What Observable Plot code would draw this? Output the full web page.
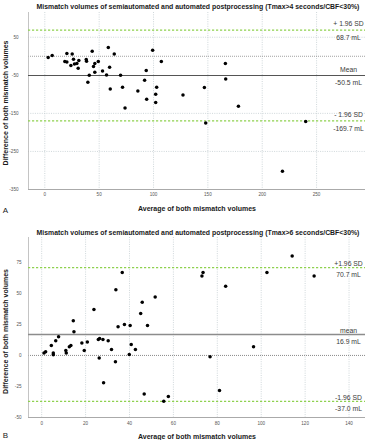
<!DOCTYPE html>
<html>
<head>
<meta charset="utf-8">
<script src="https://cdn.jsdelivr.net/npm/d3@7"></script>
<script src="https://cdn.jsdelivr.net/npm/@observablehq/plot@0.6"></script>
<style>
  html, body { margin: 0; padding: 0; background: #fff; }
  #wrap { position: relative; width: 367px; height: 440px; overflow: hidden; }
  #wrap > div { position: absolute; left: 0; }
</style>
</head>
<body>
<div id="wrap"><div id="pa" style="top:0"></div><div id="pb" style="top:220px"></div></div>
<script>
// ---------- Panel A data (Tmax>4 s / CBF<30%) ----------
const titleA = "Mismatch volumes of semiautomated and automated postprocessing (Tmax>4 seconds/CBF<30%)";
const avgA = [3.1, 6.8, 20.3, 25.2, 43.6, 58.4, 63.9, 99.2, 107.2, 18.4, 20.3, 26.4, 31.3, 24, 27.3, 29.5, 30.7, 38.1, 38.4, 49.2, 44.8, 46, 46, 53.1, 59.6, 40.9, 39.6, 56.8, 69.7, 60.2, 71.5, 93.3, 91.8, 85.6, 102.9, 102, 93.7, 102, 127.1, 73.8, 166.1, 166.4, 146.8, 178.1, 148, 240, 218.6];
const diffA = [-3.5, 1.8, 7, 6, 13, 22.8, 6, 15.7, -14, -14, -15, -7.9, -11.4, -24.5, -20, -19.3, -31.5, -8.8, -13, -14, -27, -19.3, -42, -38.5, -28.9, -50, -68, -49, -50, -85.7, -81.4, -37.6, -63, -91, -81.4, -99.7, -113, -121.6, -102, -136, -19.3, -59.5, -82, -131, -175, -171.5, -302];
const statsA = {upper: 68.7, mean: -50.5, lower: -169.7};
const labelsA = {upperTop: "+ 1.96 SD", upperBottom: "68.7 mL", meanTop: "Mean", meanBottom: "-50.5 mL", lowerTop: "- 1.96 SD", lowerBottom: "-169.7 mL"};
const xTicksA = [0, 50, 100, 150, 200, 250];
const yTicksA = [50, -50, -150, -250, -350];

// ---------- Panel B data (Tmax>6 s / CBF<30%) ----------
const titleB = "Mismatch volumes of semiautomated and automated postprocessing (Tmax>6 seconds/CBF<30%)";
const avgB = [36.7, 33.8, 51.7, 45.8, 45.1, 23.8, 14.4, 37.7, 40.3, 34.8, 48.2, 14.7, 114.1, 73.5, 73, 102.6, 124.1, 83.8, 1.05, 1.8, 4.4, 5.3, 5.3, 6.4, 7.7, 11, 11.2, 12.6, 13.3, 18.3, 19.4, 20.8, 25.8, 26.4, 27.9, 30.3, 26.2, 31.8, 33.6, 28.2, 40.8, 39.9, 42.7, 46.7, 55.6, 57.7, 96.5, 76.7, 81];
const diffB = [66.8, 52.9, 47, 42.9, 33.8, 37, 27.9, 25, 24.2, 23.1, 24.2, 19.1, 80, 66.8, 63.9, 66.8, 63.9, 55.8, 1.9, 3, 8, 1.9, 0.6, 11.8, 15, 4, 1.9, 7, 8, 10, 4, 10.8, 12.9, 13.7, 12.9, 11.8, -2.1, 4.8, -5, -22, 8.8, 0.8, 4.8, -31, -37, -33, 7, -1, -28.2];
const statsB = {upper: 70.7, mean: 16.9, lower: -37.0};
const labelsB = {upperTop: "+1.96 SD", upperBottom: "70.7 mL", meanTop: "mean", meanBottom: "16.9 mL", lowerTop: "-1.96 SD", lowerBottom: "-37.0 mL"};
const xTicksB = [0, 20, 40, 60, 80, 100, 120, 140];
const yTicksB = [75, 50, 25, 0, -25, -50];

const xTitle = "Average of both mismatch volumes";
const yTitle = "Difference of both mismatch volumes";

const FONT = "'Liberation Sans', Arial, Helvetica, sans-serif";
const GRID = "#c3cdd0";
const GREEN = "#8fd14f";

function panel(o) {
  const pts = o.avg.map((a, i) => ({a, d: o.diff[i]}));
  const s = o.stats, L = o.labels;
  const lab = (v, txt, dy) => Plot.text([v], {y: d => d, text: () => txt, frameAnchor: "right", dx: -17, dy, fontSize: 6.8, fill: "#3a3a3a", textAnchor: "middle"});
  return Plot.plot({
    width: 367, height: 220,
    marginLeft: 28, marginRight: 2, marginTop: o.mt, marginBottom: o.mb,
    style: {fontFamily: FONT, background: "#fff", overflow: "visible"},
    x: {domain: o.xDomain},
    y: {domain: o.yDomain},
    marks: [
      Plot.ruleX(o.xTicks, {x: d => d, stroke: GRID, strokeWidth: 0.8, strokeDasharray: "1,1.3"}),
      Plot.ruleY(o.yGrid, {y: d => d, stroke: GRID, strokeWidth: 0.8, strokeDasharray: "1,1.3"}),
      Plot.ruleY([0], {y: d => d, stroke: "#8a8a8a", strokeWidth: o.zeroW, strokeDasharray: "1,1"}),
      Plot.ruleX([o.xDomain[0]], {x: d => d, stroke: "#b5b5b5", strokeWidth: 0.8}),
      Plot.ruleY([o.yDomain[0]], {y: d => d, stroke: "#a0a0a0", strokeWidth: 0.9}),
      Plot.ruleY([s.upper, s.lower], {y: d => d, stroke: GREEN, strokeWidth: 1.3, strokeDasharray: "2.2,1.8"}),
      Plot.ruleY([s.mean], {y: d => d, stroke: o.meanColor, strokeWidth: o.meanW}),
      Plot.axisX({ticks: o.xTicks, tickSize: 0, tickPadding: o.xPad, fontSize: 4.6, fill: "#555", tickFormat: d => String(d), label: null}),
      Plot.axisY({ticks: o.yTicks, tickSize: 0, tickPadding: o.yPad, fontSize: 4.6, fill: "#555", tickFormat: d => String(d), label: null}),
      Plot.dot(pts, {x: "a", y: "d", r: 1.75, fill: "#000", stroke: "none"}),
      lab(s.upper, L.upperTop, o.upTop), lab(s.upper, L.upperBottom, 7.2),
      lab(s.mean, L.meanTop, o.upTop), lab(s.mean, L.meanBottom, 7.5),
      lab(s.lower, L.lowerTop, o.upTop), lab(s.lower, L.lowerBottom, 7.5),
      Plot.text([o.title], {text: d => d, frameAnchor: "top", dy: o.titleDy, dx: 1, fontSize: 6.9, fontWeight: "bold", fill: "#1a1a1a", textAnchor: "middle", lineAnchor: "middle"}),
      Plot.text([xTitle], {text: d => d, frameAnchor: "bottom", dy: o.xtDy, fontSize: 7, fontWeight: "bold", fill: "#1a1a1a", textAnchor: "middle", lineAnchor: "middle"}),
      Plot.text([yTitle], {text: d => d, frameAnchor: "left", dx: -22.5, dy: o.ytDy, rotate: -90, fontSize: 7, fontWeight: "bold", fill: "#1a1a1a", textAnchor: "middle", lineAnchor: "middle"}),
      Plot.text([o.letter], {text: d => d, frameAnchor: "bottom-left", dx: -23, dy: o.letterDy, fontSize: 8, fill: "#222", textAnchor: "middle", lineAnchor: "middle"})
    ]
  });
}

document.getElementById("pa").appendChild(panel({
  avg: avgA, diff: diffA, stats: statsA, labels: labelsA, title: titleA, letter: "A",
  xTicks: xTicksA, yTicks: yTicksA, yGrid: [50, -150, -250],
  xDomain: [-15, 295], yDomain: [-350, 115], mt: 12, mb: 31,
  xPad: 3.5, yPad: 10, zeroW: 0.8, meanColor: "#555", meanW: 1.2, upTop: -6,
  titleDy: -6, xtDy: 19, ytDy: 2, letterDy: 20.5
}));
document.getElementById("pb").appendChild(panel({
  avg: avgB, diff: diffB, stats: statsB, labels: labelsB, title: titleB, letter: "B",
  xTicks: xTicksB, yTicks: yTicksB, yGrid: [],
  xDomain: [-6, 147.5], yDomain: [-50, 95], mt: 17, mb: 23,
  xPad: 4.5, yPad: 7, zeroW: 1, meanColor: "#8c8c8c", meanW: 1.4, upTop: -4,
  titleDy: -5, xtDy: 19.2, ytDy: 4, letterDy: 17.8
}));
</script>
</body>
</html>
